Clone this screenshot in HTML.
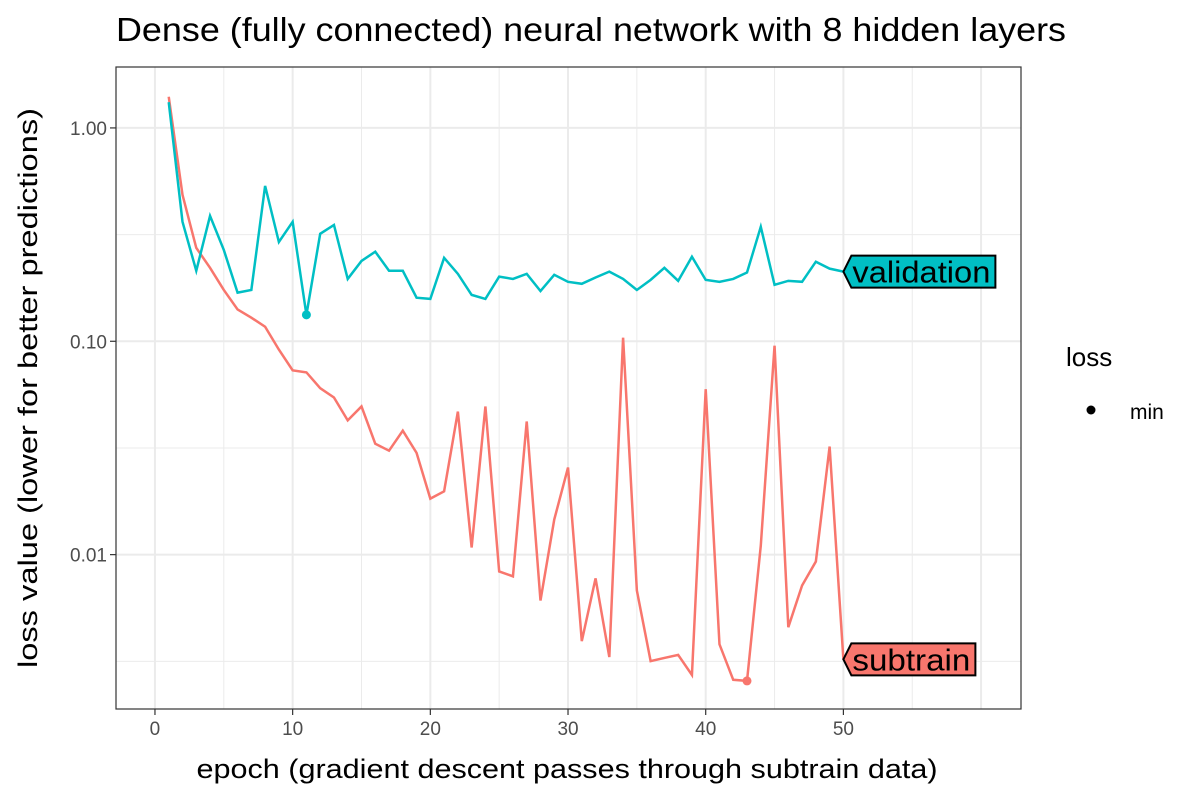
<!DOCTYPE html>
<html><head><meta charset="utf-8"><style>
body{margin:0;background:#fff}
svg text{font-family:"Liberation Sans",Arial,sans-serif}
</style></head><body>
<svg id="chart" width="1200" height="800" xmlns="http://www.w3.org/2000/svg">
<text x="116" y="41" font-size="33" textLength="950" lengthAdjust="spacingAndGlyphs" fill="#000">Dense (fully connected) neural network with 8 hidden layers</text>
<g id="grid"></g>
<g id="lines"></g>
<rect x="116" y="67" width="905" height="642" fill="none" stroke="#333" stroke-width="1.2"/>
<g id="axes"></g>
<text x="567" y="778" font-size="27" textLength="741" lengthAdjust="spacingAndGlyphs" text-anchor="middle">epoch (gradient descent passes through subtrain data)</text>
<text transform="translate(37,388) rotate(-90)" font-size="27" textLength="560" lengthAdjust="spacingAndGlyphs" text-anchor="middle">loss value (lower for better predictions)</text>
<g>
<text x="1066" y="366" font-size="26">loss</text>
<circle cx="1091" cy="410" r="4.5" fill="#000"/>
<text x="1130" y="419" font-size="21">min</text>
</g>
</svg>
<script>
const epochs = Array.from({length:50},(_,i)=>i+1);
const subtrain = [1.40,0.486,0.274,0.221,0.174,0.141,0.129,0.117,0.0914,0.0731,0.0715,0.0603,0.0545,0.0426,0.0495,0.0331,0.0307,0.0381,0.0300,0.0183,0.0198,0.0468,0.0108,0.0495,0.00834,0.00791,0.0421,0.00609,0.0146,0.0256,0.00393,0.00774,0.00331,0.104,0.00679,0.00317,0.00328,0.00339,0.00273,0.0596,0.00380,0.00259,0.00256,0.0110,0.0953,0.00457,0.00717,0.00928,0.0321,0.00323];
const validation = [1.32,0.363,0.214,0.387,0.268,0.169,0.174,0.535,0.292,0.363,0.133,0.319,0.351,0.196,0.238,0.263,0.214,0.214,0.160,0.158,0.246,0.207,0.165,0.158,0.201,0.196,0.207,0.172,0.205,0.190,0.186,0.199,0.212,0.196,0.174,0.194,0.221,0.192,0.249,0.194,0.190,0.196,0.210,0.344,0.184,0.192,0.190,0.236,0.219,0.212];
const xTicks = [0,10,20,30,40,50];
const yTicks = [1,0.1,0.01];
const yTickLabels = ["1.00","0.10","0.01"];
const NS="http://www.w3.org/2000/svg";
const X0=116,X1=1021,Y0=67,Y1=709;
const xmin=-2.83,xmax=62.9, lmin=Math.log10(0.00189), lmax=Math.log10(1.93);
const xs=v=>X0+(v-xmin)/(xmax-xmin)*(X1-X0);
const ys=v=>Y1-(Math.log10(v)-lmin)/(lmax-lmin)*(Y1-Y0);
function mk(tag,attrs,parent){const e=document.createElementNS(NS,tag);for(const k in attrs)e.setAttribute(k,attrs[k]);parent.appendChild(e);return e;}
const grid=document.getElementById('grid'),lines=document.getElementById('lines'),axes=document.getElementById('axes');
for(let v=5;v<=60;v+=10){const l=mk('line',{x1:xs(v),x2:xs(v),y1:Y0,y2:Y1,stroke:'#ebebeb','stroke-width':1},grid);

}
[0.316,0.0316,0.00316].forEach(v=>{const l=mk('line',{x1:X0,x2:X1,y1:ys(v),y2:ys(v),stroke:'#ebebeb','stroke-width':1},grid);

});
xTicks.concat([60]).forEach(v=>{const l=mk('line',{x1:xs(v),x2:xs(v),y1:Y0,y2:Y1,stroke:'#ebebeb','stroke-width':2},grid);

});
yTicks.forEach(v=>{const l=mk('line',{x1:X0,x2:X1,y1:ys(v),y2:ys(v),stroke:'#ebebeb','stroke-width':2},grid);

});
xTicks.forEach(v=>{const t=mk('line',{x1:xs(v),x2:xs(v),y1:Y1,y2:Y1+6,stroke:'#333','stroke-width':1.2},axes);


const tx=mk('text',{x:xs(v),y:Y1+26,'font-size':19,'text-anchor':'middle',fill:'#4d4d4d'},axes);tx.textContent=v;

});
yTicks.forEach((v,i)=>{const t=mk('line',{x1:X0-6,x2:X0,y1:ys(v),y2:ys(v),stroke:'#333','stroke-width':1.2},axes);


const tx=mk('text',{x:X0-9,y:ys(v)+7,'font-size':19,'text-anchor':'end',fill:'#4d4d4d'},axes);tx.textContent=yTickLabels[i];

});
function series(vals,color,name){
 const p=mk('polyline',{points:vals.map((v,i)=>xs(epochs[i])+','+ys(v)).join(' '),fill:'none',stroke:color,'stroke-width':2.5},lines);
 
 
 let mi=0;vals.forEach((v,i)=>{if(v<vals[mi])mi=i;});
 const c=mk('circle',{cx:xs(epochs[mi]),cy:ys(vals[mi]),r:4.5,fill:color},lines);
 
 
 const lx=xs(epochs[vals.length-1]),ly=ys(vals[vals.length-1]);
 const w=name==='validation'?152:132,h=32;
 const g=mk('polygon',{points:`${lx},${ly} ${lx+8},${ly-h/2} ${lx+w},${ly-h/2} ${lx+w},${ly+h/2} ${lx+8},${ly+h/2}`,fill:color,stroke:'#000','stroke-width':2},lines);
 
 
 const t=mk('text',{x:lx+9,y:ly+11,'font-size':31,textLength:w-14,lengthAdjust:'spacingAndGlyphs',fill:'#000'},lines);t.textContent=name;
 
 
}
series(subtrain,'#F8766D','subtrain');
series(validation,'#00BFC4','validation');
</script>
</body></html>
